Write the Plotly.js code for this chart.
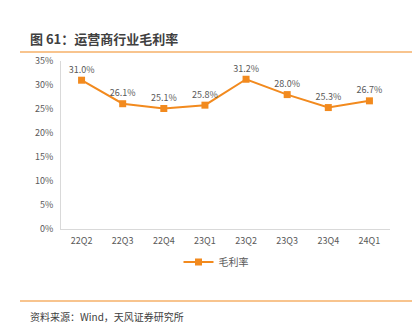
<!DOCTYPE html>
<html><head><meta charset="utf-8">
<script src="https://cdn.plot.ly/plotly-3.0.1.min.js"></script>
<style>html,body{margin:0;padding:0;background:#fff}#c{width:416px;height:333px}</style>
</head><body><div id="c"></div>
<script>
const categories = ["22Q2","22Q3","22Q4","23Q1","23Q2","23Q3","23Q4","24Q1"];
const grossMargin = [31.0, 26.1, 25.1, 25.8, 31.2, 28.0, 25.3, 26.7];
const yTickVals = [0,5,10,15,20,25,30,35];
const yTickText = ["0%","5%","10%","15%","20%","25%","30%","35%"];
const seriesName = "毛利率";
const titleText = "图 61：运营商行业毛利率";
const sourceText = "资料来源：Wind，天风证券研究所";

const W=416,H=333,L=61,R=26,T=61,B=104;
const pw=W-L-R, ph=H-T-B;
const px = x => (x-L)/pw;
const py = y => (H-B-y)/ph;
const orange = "#F28A1E";
const font = "Noto Sans CJK SC, Noto Sans, sans-serif";

const trace = {
  x: categories, y: grossMargin, type: "scatter", mode: "lines+markers+text",
  name: seriesName,
  line: {color: orange, width: 2},
  marker: {symbol: "square", size: 7, color: orange},
  text: grossMargin.map(v => v.toFixed(1) + "%"),
  textposition: "top center",
  textfont: {size: 9, color: "#595959", family: font},
  cliponaxis: false
};
const layout = {
  width: W, height: H,
  margin: {l: L, r: R, t: T, b: B},
  paper_bgcolor: "#fff", plot_bgcolor: "#fff",
  font: {family: font, color: "#595959"},
  showlegend: true,
  legend: {orientation: "h", x: px(216), xanchor: "center", y: py(262), yanchor: "middle",
           font: {size: 10, color: "#595959"}},
  xaxis: {type: "category", showgrid: false, zeroline: false, showline: true,
          linecolor: "#D9D9D9", linewidth: 1, ticks: "", tickfont: {size: 9, color: "#595959"},
          ticklabelstandoff: 3, range: [-0.5, 7.5]},
  yaxis: {range: [0, 35], tickvals: yTickVals, ticktext: yTickText, showgrid: false,
          zeroline: false, showline: true, linecolor: "#D9D9D9", linewidth: 1, ticks: "",
          ticklabelstandoff: 5, tickfont: {size: 9, color: "#595959"}},
  shapes: [
    {type: "line", xref: "paper", yref: "paper", x0: px(20), x1: px(412), y0: py(52), y1: py(52),
     line: {color: orange, width: 1.2}},
    {type: "line", xref: "paper", yref: "paper", x0: px(20), x1: px(412), y0: py(301), y1: py(301),
     line: {color: orange, width: 1.2}}
  ],
  annotations: [
    {text: "<b>" + titleText + "</b>", xref: "paper", yref: "paper", x: px(28), y: py(38),
     xanchor: "left", yanchor: "middle", showarrow: false, font: {size: 13, color: "#404040", family: font}},
    {text: sourceText, xref: "paper", yref: "paper", x: px(28), y: py(316),
     xanchor: "left", yanchor: "middle", showarrow: false, font: {size: 10, color: "#404040", family: font}}
  ]
};
Plotly.newPlot("c", [trace], layout, {displayModeBar: false, staticPlot: true});
</script></body></html>
